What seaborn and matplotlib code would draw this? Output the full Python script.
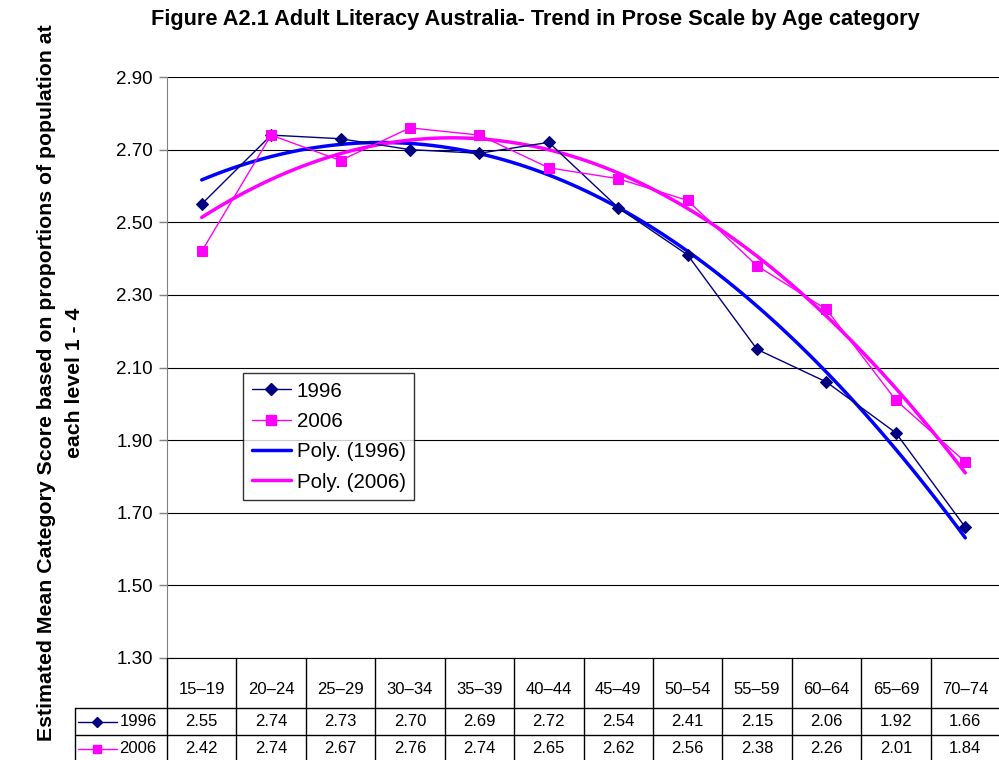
from matplotlib import pyplot as plt
from matplotlib.lines import Line2D
import matplotlib.transforms as mtransforms
import pandas as pd
import seaborn as sns

age_groups = ['15\u201319', '20\u201324', '25\u201329', '30\u201334', '35\u201339', '40\u201344',
              '45\u201349', '50\u201354', '55\u201359', '60\u201364', '65\u201369', '70\u201374']
scores_1996 = [2.55, 2.74, 2.73, 2.70, 2.69, 2.72, 2.54, 2.41, 2.15, 2.06, 1.92, 1.66]
scores_2006 = [2.42, 2.74, 2.67, 2.76, 2.74, 2.65, 2.62, 2.56, 2.38, 2.26, 2.01, 1.84]

sns.set_style('white')
plt.rcParams['font.family'] = ['Liberation Sans', 'DejaVu Sans']
plt.rcParams['text.color'] = 'black'
plt.rcParams['ytick.color'] = 'black'

data = pd.DataFrame({'pos': range(len(age_groups)), 'age': age_groups,
                     's1996': scores_1996, 's2006': scores_2006})

W, H = 999, 760
fig = plt.figure(figsize=(W / 100, H / 100), dpi=100)
left, right, top, bottom = 167, 1000, 77, 658
ax = fig.add_axes([left / W, 1 - bottom / H, (right - left) / W, (bottom - top) / H])

navy = '#000080'
mag = '#FF00FF'
blue = '#0000FF'

sns.lineplot(x='pos', y='s1996', data=data, ax=ax, color=navy, lw=1, marker='D',
             markersize=6, markeredgecolor=navy, zorder=4)
sns.lineplot(x='pos', y='s2006', data=data, ax=ax, color=mag, lw=1, marker='s',
             markersize=6.5, markeredgecolor=mag, zorder=4)
sns.regplot(x='pos', y='s1996', data=data, ax=ax, order=2, ci=None, scatter=False,
            line_kws={'color': blue, 'lw': 2.5, 'zorder': 3})
sns.regplot(x='pos', y='s2006', data=data, ax=ax, order=2, ci=None, scatter=False,
            line_kws={'color': mag, 'lw': 2.5, 'zorder': 3})

ax.set_xlim(-0.5, len(age_groups) - 0.5)
ax.set_ylim(1.30, 2.90)
ax.set_yticks([1.30 + 0.2 * i for i in range(9)])
ax.set_yticklabels([f'{1.30 + 0.2 * i:.2f}' for i in range(9)], fontsize=13.5)
ax.set_xticks([])
ax.set_xlabel('')
ax.set_ylabel('')
ax.yaxis.grid(True, color='black', lw=0.8)
ax.tick_params(axis='y', direction='out', length=6, width=1, color='#808080', left=True, pad=4)
for s in ['top', 'right']:
    ax.spines[s].set_visible(False)
ax.spines['left'].set_color('#808080')
ax.spines['bottom'].set_color('black')

handles = [Line2D([], [], color=navy, lw=1, marker='D', markersize=6),
           Line2D([], [], color=mag, lw=1, marker='s', markersize=6.5),
           Line2D([], [], color=blue, lw=2.5),
           Line2D([], [], color=mag, lw=2.5)]
labels = ['1996', '2006', 'Poly. (1996)', 'Poly. (2006)']
leg = ax.legend(handles, labels, loc='upper left', bbox_to_anchor=(243 / W, 1 - 373 / H),
                bbox_transform=fig.transFigure, borderaxespad=0, fontsize=14.8,
                frameon=True, fancybox=False, edgecolor='black', handlelength=1.9,
                handletextpad=0.3, labelspacing=0.55, borderpad=0.42)
leg.get_frame().set_linewidth(1)

# data table under the plot
trans = mtransforms.blended_transform_factory(ax.transData, ax.transAxes)
ph = bottom - top
y_hdr = -(708 - bottom) / ph
y_r1 = -(735 - bottom) / ph
y_r2 = -(762 - bottom) / ph
lab_left = -0.5 - (left - 75) / ((right - left) / len(age_groups))
lc = 'black'
for i in range(len(age_groups) + 1):
    ax.plot([i - 0.5, i - 0.5], [0, y_r2], color=lc, lw=1, transform=trans, clip_on=False)
ax.plot([lab_left, lab_left], [y_hdr, y_r2], color=lc, lw=1, transform=trans, clip_on=False)
for yy in [y_hdr, y_r1, y_r2]:
    ax.plot([lab_left, len(age_groups) - 0.5], [yy, yy], color=lc, lw=1,
            transform=trans, clip_on=False)
for i, a in enumerate(age_groups):
    ax.text(i, (y_hdr + 0) / 2 - 0.012, a, ha='center', va='center', fontsize=12, transform=trans)
    ax.text(i, (y_hdr + y_r1) / 2, f'{scores_1996[i]:.2f}', ha='center', va='center',
            fontsize=12, transform=trans)
    ax.text(i, (y_r1 + y_r2) / 2, f'{scores_2006[i]:.2f}', ha='center', va='center',
            fontsize=12, transform=trans)
for yy, lab, col, mk, ms in [((y_hdr + y_r1) / 2, '1996', navy, 'D', 5),
                              ((y_r1 + y_r2) / 2, '2006', mag, 's', 5.5)]:
    ax.add_line(Line2D([lab_left + 0.04, lab_left + 0.6], [yy, yy], color=col, lw=1,
                       transform=trans, clip_on=False))
    ax.add_line(Line2D([lab_left + 0.32], [yy], color=col, marker=mk, markersize=ms,
                       transform=trans, clip_on=False))
    ax.text(lab_left + 0.64, yy, lab, ha='left', va='center', fontsize=12, transform=trans)

fig.text(535 / W, 1 - 19 / H, 'Figure A2.1 Adult Literacy Australia- Trend in Prose Scale by Age category',
         ha='center', va='center', fontsize=15.7, fontweight='bold')
fig.text(61 / W, 1 - 383 / H,
         'Estimated Mean Category Score based on proportions of population at\neach level 1 - 4',
         ha='center', va='center', rotation=90, fontsize=15.3, fontweight='bold',
         linespacing=1.6)

plt.savefig('out.png', dpi=100)
